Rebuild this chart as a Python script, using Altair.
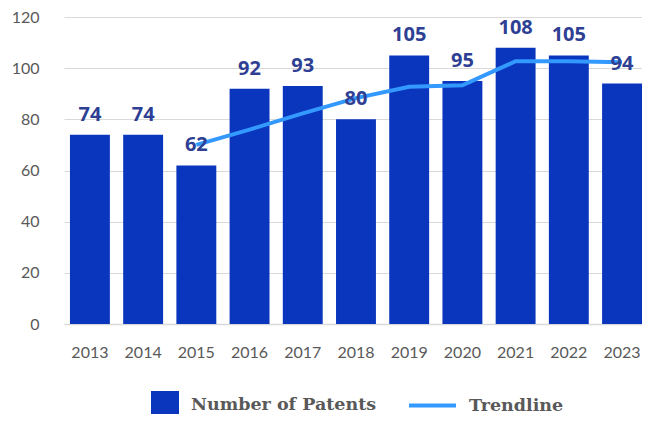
import altair as alt
import pandas as pd

years = ["2013", "2014", "2015", "2016", "2017", "2018", "2019", "2020", "2021", "2022", "2023"]
patents = [74, 74, 62, 92, 93, 80, 105, 95, 108, 105, 94]
trend_years = ["2015", "2016", "2017", "2018", "2019", "2020", "2021", "2022", "2023"]
trend_values = [70.0, 76.0, 82.3, 88.3, 92.7, 93.3, 102.7, 102.7, 102.3]
y_ticks = [0, 20, 40, 60, 80, 100, 120]

bars_df = pd.DataFrame({"Year": years, "Value": patents, "Series": ["Number of Patents"] * len(years)})
trend_df = pd.DataFrame({"Year": trend_years, "Value": trend_values, "Series": ["Trendline"] * len(trend_years)})

x = alt.X(
    "Year:N",
    sort=years,
    scale=alt.Scale(domain=years, paddingInner=0.25, paddingOuter=0.056, align=1),
    axis=alt.Axis(
        title=None, labelAngle=0, ticks=False, grid=False,
        domainColor="#D9D9D9", domainWidth=1.5,
        labelFont="Lato", labelFontSize=16, labelColor="#595959", labelPadding=20,
    ),
)
y = alt.Y(
    "Value:Q",
    scale=alt.Scale(domain=[0, 120], nice=False),
    axis=alt.Axis(
        title=None, values=y_ticks, ticks=False, domain=False,
        labelFont="Lato", labelFontSize=16, labelColor="#595959", labelPadding=25,
        gridColor="#D9D9D9", gridWidth=1,
    ),
)

legend_common = dict(
    title=None, orient="none", direction="horizontal", labelLimit=400,
    labelFont="DejaVu Serif", labelFontWeight="bold", labelFontSize=17.5, labelColor="#595959",
)

bars = alt.Chart(bars_df).mark_bar().encode(
    x=x,
    y=y,
    fill=alt.Fill(
        "Series:N",
        scale=alt.Scale(domain=["Number of Patents"], range=["#0A35BD"]),
        legend=alt.Legend(
            legendX=87, legendY=374, symbolType="square", symbolSize=784,
            symbolStrokeWidth=0, labelOffset=12, **legend_common,
        ),
    ),
)

labels = alt.Chart(bars_df).mark_text(
    dy=-20, baseline="middle", align="center",
    font="Open Sans", fontWeight="bold", fontSize=20, color="#2E3F94",
).encode(x=x, y=y, text=alt.Text("Value:Q"))

line = alt.Chart(trend_df).mark_line(strokeWidth=4).encode(
    x=x,
    y=y,
    stroke=alt.Stroke(
        "Series:N",
        scale=alt.Scale(domain=["Trendline"], range=["#3399FF"]),
        legend=alt.Legend(
            legendX=343, legendY=363, symbolType="stroke", symbolSize=2209,
            symbolStrokeWidth=4, labelOffset=11, **legend_common,
        ),
    ),
)

chart = alt.layer(bars, line, labels).properties(
    width=578, height=307,
    padding={"left": 56, "top": 9, "right": 0, "bottom": 90},
    autosize="none",
).configure_view(stroke=None).resolve_scale(fill="independent", stroke="independent")

chart.save("out.html", embed_options={"renderer": "svg", "actions": False})
